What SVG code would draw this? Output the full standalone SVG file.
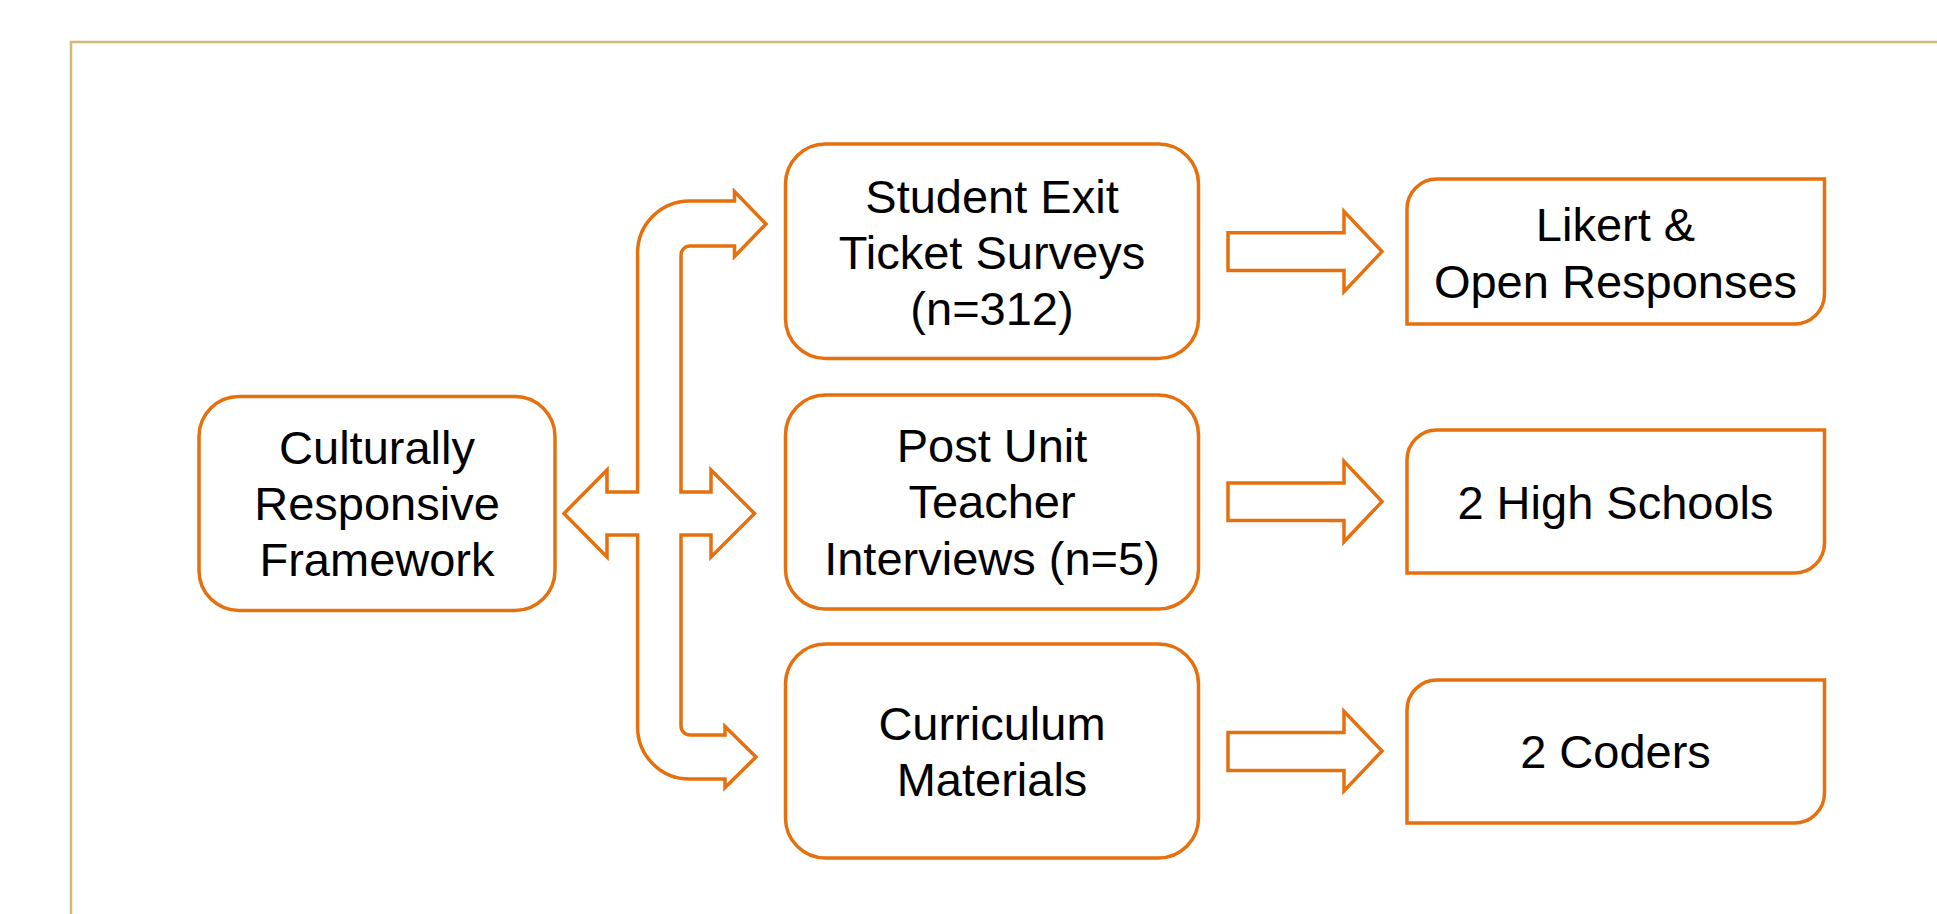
<svg xmlns="http://www.w3.org/2000/svg" width="1937" height="914" viewBox="0 0 1937 914">
  <style>
    .box { fill: #FFFFFF; stroke: #E6700D; stroke-width: 3.5; }
    .conn { fill: #FFFFFF; stroke: #E6700D; stroke-width: 3.5; stroke-linejoin: miter; }
    .lbl { font-family: "Liberation Sans", Arial, sans-serif; font-size: 47px; fill: #000000; text-anchor: middle; }
    .frame { fill: none; stroke: #D2B978; stroke-width: 2.5; }
  </style>
  <rect x="0" y="0" width="1937" height="914" fill="#FFFFFF"/>
  <path class="frame" d="M 71 920 L 71 42 L 1945 42"/>

  <g id="connectors">
    <path id="cross-arrow" class="conn" d="M 637.6 253 A 52 52 0 0 1 690 201 L 734.5 201 L 734.5 191.5 L 766 224 L 734.5 256.5 L 734.5 246 L 690 246 A 9 9 0 0 0 681 255 L 681 492 L 711 492 L 711 470 L 754.5 513.5 L 711 557 L 711 535 L 681 535 L 681 726 A 9 9 0 0 0 690 735 L 725 735 L 725 726.5 L 756 757 L 725 787.5 L 725 779 L 690 779 A 52 52 0 0 1 637.6 727 L 637.6 535 L 607 535 L 607 557 L 564 513.5 L 607 470 L 607 492 L 637.6 492 Z"/>
    <path id="arrow-survey" class="conn" d="M 1228 232.7 L 1344 232.7 L 1344 211.4 L 1382 251.5 L 1344 291.7 L 1344 270.5 L 1228 270.5 Z"/>
    <path id="arrow-interview" class="conn" d="M 1228 482.9 L 1344 482.9 L 1344 461.4 L 1382 501.6 L 1344 541.8 L 1344 520.4 L 1228 520.4 Z"/>
    <path id="arrow-curriculum" class="conn" d="M 1228 732.4 L 1344 732.4 L 1344 711.4 L 1382 751 L 1344 790.9 L 1344 770.4 L 1228 770.4 Z"/>
  </g>

  <g id="node-framework">
    <rect class="box" x="199" y="396.5" width="356" height="214" rx="40" ry="40"/>
    <text class="lbl" x="377" y="464">Culturally</text>
    <text class="lbl" x="377" y="520">Responsive</text>
    <text class="lbl" x="377" y="576">Framework</text>
  </g>

  <g id="node-surveys">
    <rect class="box" x="785.5" y="144" width="413" height="214.5" rx="40" ry="40"/>
    <text class="lbl" x="992" y="212.5">Student Exit</text>
    <text class="lbl" x="992" y="268.5">Ticket Surveys</text>
    <text class="lbl" x="992" y="324.5">(n=312)</text>
  </g>

  <g id="node-interviews">
    <rect class="box" x="785.5" y="395" width="413" height="214" rx="40" ry="40"/>
    <text class="lbl" x="992" y="462">Post Unit</text>
    <text class="lbl" x="992" y="518.3">Teacher</text>
    <text class="lbl" x="992" y="574.6">Interviews (n=5)</text>
  </g>

  <g id="node-curriculum">
    <rect class="box" x="785.5" y="644" width="413" height="214" rx="40" ry="40"/>
    <text class="lbl" x="992" y="740">Curriculum</text>
    <text class="lbl" x="992" y="796">Materials</text>
  </g>

  <g id="node-likert">
    <path class="box" d="M 1437 179 L 1824.5 179 L 1824.5 294 A 30 30 0 0 1 1794.5 324 L 1407 324 L 1407 209 A 30 30 0 0 1 1437 179 Z"/>
    <text class="lbl" x="1615.5" y="241">Likert &amp;</text>
    <text class="lbl" x="1615.5" y="297.5">Open Responses</text>
  </g>

  <g id="node-schools">
    <path class="box" d="M 1437 430 L 1824.5 430 L 1824.5 543 A 30 30 0 0 1 1794.5 573 L 1407 573 L 1407 460 A 30 30 0 0 1 1437 430 Z"/>
    <text class="lbl" x="1615.5" y="518.6">2 High Schools</text>
  </g>

  <g id="node-coders">
    <path class="box" d="M 1437 680 L 1824.5 680 L 1824.5 793 A 30 30 0 0 1 1794.5 823 L 1407 823 L 1407 710 A 30 30 0 0 1 1437 680 Z"/>
    <text class="lbl" x="1615.5" y="768">2 Coders</text>
  </g>
</svg>
